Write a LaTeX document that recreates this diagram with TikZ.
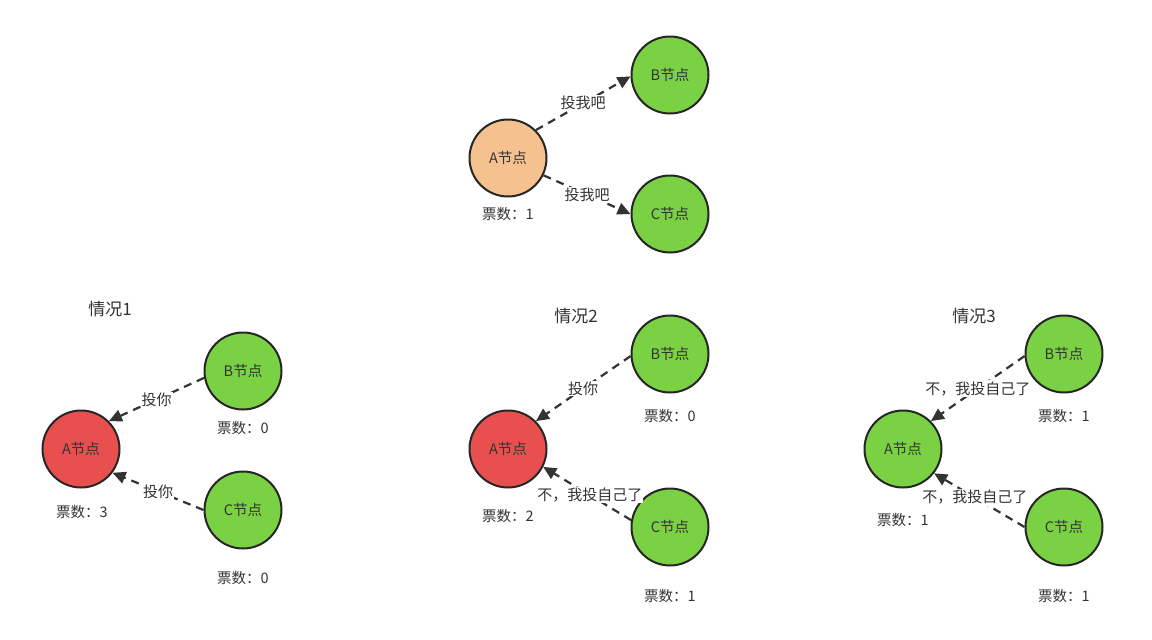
\documentclass[tikz,border=0pt]{standalone}
\usepackage{fontspec}
\setmainfont{Noto Sans CJK SC}
\usetikzlibrary{arrows.meta}
\definecolor{peergreen}{HTML}{7AD144}
\definecolor{candorange}{HTML}{F5C18F}
\definecolor{leadred}{HTML}{E85050}
\definecolor{inkgray}{HTML}{333333}
\tikzset{
  peer/.style={circle,draw=black!85,line width=2pt,fill=peergreen,minimum size=77pt,inner sep=0pt,
    text=inkgray,font=\fontsize{14.5}{16}\selectfont},
  vote/.style={draw=inkgray,line width=2.2pt,dash pattern=on 8pt off 6pt,
    -{Triangle[length=13pt,width=12pt]}},
  ask/.style={fill=white,inner sep=1pt,text=inkgray,font=\fontsize{15}{17}\selectfont},
  count/.style={text=inkgray,font=\fontsize{14.5}{16}\selectfont},
  case/.style={text=inkgray,font=\fontsize{17}{19}\selectfont}
}
\begin{document}
\begin{tikzpicture}[x=1pt,y=-1pt]
   \useasboundingbox[fill=white] (0,0) rectangle (1152,640);
   % election request
   \node[peer,fill=candorange] (a0) at (508,158) {A节点};
   \node[peer] (b0) at (670,75) {B节点};
   \node[peer] (c0) at (670,214) {C节点};
   \node[count] (n0) at (508,214) {票数：1};
   \draw[vote] (a0.45) -- node[ask] {投我吧} (b0.182);
   \draw[vote] (a0.-26) -- node[ask] {投我吧} (c0.180);
   % case 1
   \node[case] (t1) at (110,309) {情况1};
   \node[peer,fill=leadred] (a1) at (81,449) {A节点};
   \node[peer] (b1) at (243,371) {B节点};
   \node[peer] (c1) at (243,510) {C节点};
   \node[count] (na1) at (82,512) {票数：3};
   \node[count] (nb1) at (243,428) {票数：0};
   \node[count] (nc1) at (243,578) {票数：0};
   \draw[vote] (b1.190) -- node[ask] {投你} (a1.45);
   \draw[vote] (c1.180) -- node[ask] {投你} (a1.-37);
   % case 2
   \node[case] (t2) at (576,316) {情况2};
   \node[peer,fill=leadred] (a2) at (508,449) {A节点};
   \node[peer] (b2) at (670,354) {B节点};
   \node[peer] (c2) at (670,527) {C节点};
   \node[count] (na2) at (508,516) {票数：2};
   \node[count] (nb2) at (670,416) {票数：0};
   \node[count] (nc2) at (670,596) {票数：1};
   \draw[vote] (b2.183) -- node[ask] {投你} (a2.45);
   \draw[vote] (c2.170) -- node[ask,pos=0.47] {不，我投自己了} (a2.-27);
   % case 3
   \node[case] (t3) at (974,316) {情况3};
   \node[peer] (a3) at (903,449) {A节点};
   \node[peer] (b3) at (1064,354) {B节点};
   \node[peer] (c3) at (1064,527) {C节点};
   \node[count] (na3) at (903,520) {票数：1};
   \node[count] (nb3) at (1064,416) {票数：1};
   \node[count] (nc3) at (1064,596) {票数：1};
   \draw[vote] (b3.183) -- node[ask] {不，我投自己了} (a3.45);
   \draw[vote] (c3.180) -- node[ask,pos=0.55] {不，我投自己了} (a3.-38);
\end{tikzpicture}
\end{document}
